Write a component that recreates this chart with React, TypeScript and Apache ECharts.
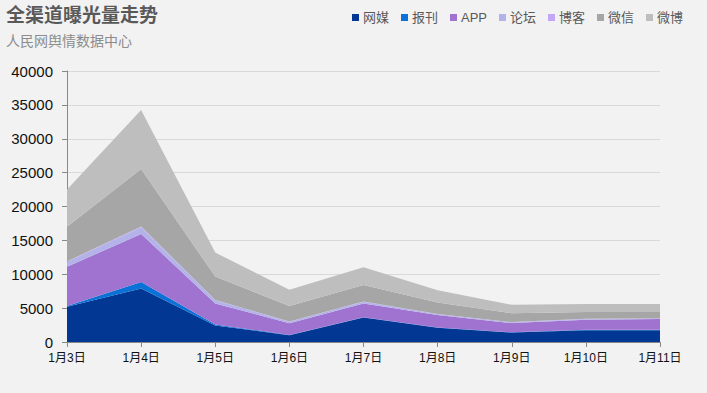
import React, { useEffect, useRef } from "react";
import * as echarts from "echarts";

const categories = ["1月3日", "1月4日", "1月5日", "1月6日", "1月7日", "1月8日", "1月9日", "1月10日", "1月11日"];
const seriesNames = ["网媒", "报刊", "APP", "论坛", "博客", "微信", "微博"];
const wangmei = [5200, 7900, 2450, 1000, 3600, 2100, 1400, 1750, 1750];
const baokan = [100, 950, 150, 50, 50, 40, 40, 40, 40];
const app = [5800, 7100, 3100, 1700, 2050, 1850, 1350, 1500, 1600];
const luntan = [750, 1000, 450, 250, 250, 100, 120, 100, 100];
const boke = [50, 100, 50, 30, 30, 30, 30, 30, 30];
const weixin = [5100, 8500, 3450, 2300, 2450, 1700, 1300, 1000, 900];
const weibo = [5500, 8700, 3550, 2400, 2600, 1800, 1250, 1200, 1200];
const yTicks = [0, 5000, 10000, 15000, 20000, 25000, 30000, 35000, 40000];

const colors = ["#023894", "#0a72d6", "#a173d0", "#b3b3ea", "#c4a6f6", "#a6a6a6", "#bebebe"];
const values = [wangmei, baokan, app, luntan, boke, weixin, weibo];

export default function App() {
  const ref = useRef<HTMLDivElement>(null);
  useEffect(() => {
    if (!ref.current) return;
    const chart = echarts.init(ref.current, null, { renderer: "svg" });
    chart.setOption({
      animation: false,
      backgroundColor: "#f2f2f2",
      color: colors,
      title: {
        text: "全渠道曝光量走势",
        subtext: "人民网舆情数据中心",
        left: 6,
        top: 4,
        padding: 0,
        itemGap: 10,
        textStyle: { fontSize: 19, fontWeight: "bold", color: "#595959", fontFamily: "Noto Sans CJK SC" },
        subtextStyle: { fontSize: 14, color: "#8c8c8c", fontFamily: "Noto Sans CJK SC" },
      },
      legend: {
        data: seriesNames,
        right: 24,
        top: 11,
        icon: "rect",
        itemWidth: 7,
        itemHeight: 7,
        itemGap: 12,
        padding: 0,
        textStyle: { fontSize: 13, color: "#595959", fontFamily: "Liberation Sans, Noto Sans CJK SC", padding: [0, 0, 0, -1] },
      },
      grid: { left: 67, right: 47, top: 71, bottom: 51, containLabel: false },
      xAxis: {
        type: "category",
        data: categories,
        boundaryGap: false,
        axisLine: { lineStyle: { color: "#888888" } },
        axisTick: { alignWithLabel: true, length: 5, lineStyle: { color: "#888888" } },
        axisLabel: { color: "#111111", fontSize: 12, margin: 10, fontFamily: "Liberation Sans, Noto Sans CJK SC" },
        splitLine: { show: false },
      },
      yAxis: {
        type: "value",
        min: yTicks[0],
        max: yTicks[yTicks.length - 1],
        interval: 5000,
        axisLine: { show: true, lineStyle: { color: "#888888" } },
        axisTick: { show: true, length: 5, lineStyle: { color: "#888888" } },
        axisLabel: { color: "#111111", fontSize: 15, margin: 14, fontFamily: "Liberation Sans", formatter: (v: number) => String(v) },
        splitLine: { lineStyle: { color: "#d9d9d9" } },
      },
      series: seriesNames.map((name, i) => ({
        name,
        type: "line",
        stack: "total",
        data: values[i],
        showSymbol: false,
        symbol: "none",
        lineStyle: { width: 0 },
        areaStyle: { color: colors[i], opacity: 1 },
        itemStyle: { color: colors[i] },
      })),
    });
    return () => chart.dispose();
  }, []);
  return <div ref={ref} style={{ width: 707, height: 393, position: "absolute", left: 0, top: 0 }} />;
}
